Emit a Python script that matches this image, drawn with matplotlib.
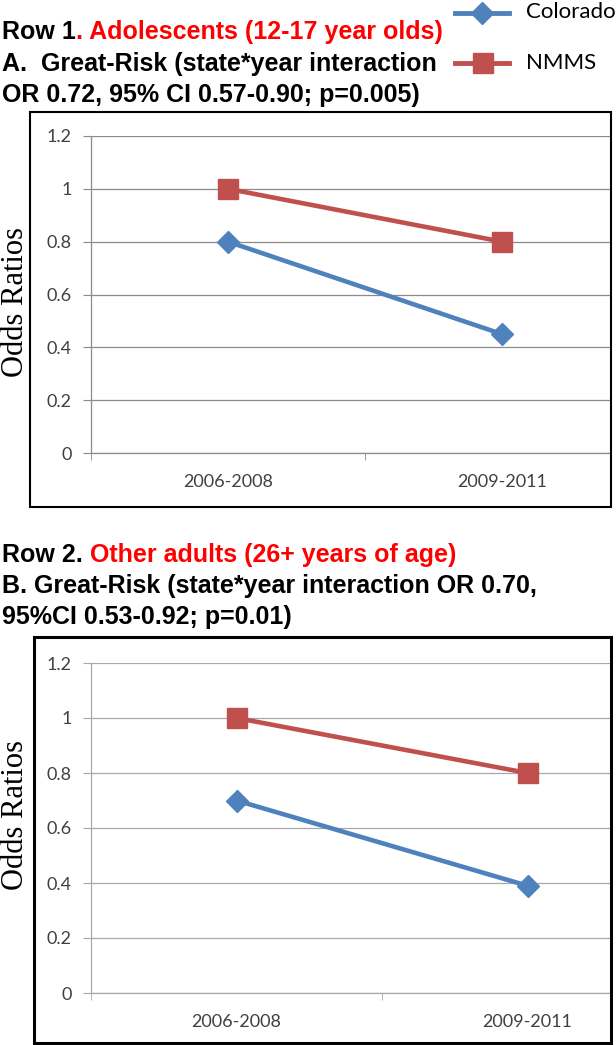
import matplotlib
matplotlib.use("Agg")
import matplotlib.pyplot as plt
from matplotlib.patches import Rectangle
from matplotlib.lines import Line2D

W, H = 616, 1045

periods = ["2006-2008", "2009-2011"]
colorado_a = [0.80, 0.45]
nmms_a = [1.00, 0.80]
colorado_b = [0.70, 0.39]
nmms_b = [1.00, 0.80]
yticks = [0, 0.2, 0.4, 0.6, 0.8, 1.0, 1.2]
ytick_labels = ["0", "0.2", "0.4", "0.6", "0.8", "1", "1.2"]

blue = "#4F81BD"
red = "#C0504D"
tick_c = "#404040"

fig = plt.figure(figsize=(W / 100, H / 100), dpi=100)


def fx(x):
    return x / W


def fy(y):
    return 1 - y / H


def panel(left, right, top, bottom, band, colorado, nmms, grid_c):
    ax = fig.add_axes([fx(left), fy(bottom), fx(right) - fx(left), fy(top) - fy(bottom)])
    x = list(range(len(periods)))
    ax.plot(x, colorado, color=blue, lw=3.3, marker="D", ms=11, zorder=3)
    ax.plot(x, nmms, color=red, lw=3.3, marker="s", ms=14, zorder=3)
    ax.set_yticks(yticks)
    ax.set_yticklabels(ytick_labels, family="Lato", fontsize=13, color=tick_c)
    ax.set_xticks(x)
    ax.set_xticklabels(periods, family="Lato", fontsize=13, color=tick_c)
    ax.tick_params(axis="x", which="major", length=0, pad=15)
    ax.set_xticks([-0.5, 0.5, 1.5], minor=True)
    ax.tick_params(axis="x", which="minor", length=5, color=grid_c, direction="out")
    ax.tick_params(axis="y", length=6, color=grid_c, pad=8)
    # limits after the ticks, so the 1.5 boundary tick does not widen the view
    ax.set_ylim(0, 1.2)
    ax.set_xlim(-0.5, -0.5 + (right - left) / band)
    ax.grid(axis="y", color=grid_c, lw=0.9)
    ax.set_axisbelow(True)
    for s in ["top", "right"]:
        ax.spines[s].set_visible(False)
    for s in ["left", "bottom"]:
        ax.spines[s].set_color(grid_c)
        ax.spines[s].set_linewidth(0.9)
    ax.set_facecolor("none")
    return ax


def box(x0, y0, x1, y1, lw):
    fig.patches.append(Rectangle((fx(x0), fy(y1)), fx(x1) - fx(x0), fy(y0) - fy(y1),
                                 transform=fig.transFigure, fill=False,
                                 edgecolor="black", lw=lw))


def heading(x, y, black, redtxt):
    t1 = fig.text(fx(x), fy(y), black, family="Liberation Sans", weight="bold",
                  fontsize=18, va="bottom", ha="left")
    plt.annotate(redtxt, xy=(1, 0), xycoords=t1, va="bottom", ha="left",
                 family="Liberation Sans", weight="bold", fontsize=18,
                 color="#FF0000")


def line(x, y, s):
    fig.text(fx(x), fy(y), s, family="Liberation Sans", weight="bold",
             fontsize=18, va="bottom", ha="left")


def ylab(yc):
    fig.text(fx(1), fy(yc), "Odds Ratios", family="Liberation Serif", fontsize=22,
             rotation=90, ha="left", va="center")


# panel A
box(30, 112, 611, 507, 1.5)
panel(91, 610, 136, 453, 274, colorado_a, nmms_a, "#8A8A8A")
ylab(302)

# panel B
box(34, 637, 611, 1043, 2.2)
panel(91, 610, 663, 993, 291, colorado_b, nmms_b, "#A8A8A8")
ylab(815)

# headings
heading(2, 44, "Row 1", ". Adolescents (12-17 year olds)")
line(2, 76, "A.  Great-Risk (state*year interaction")
line(2, 107, "OR 0.72, 95% CI 0.57-0.90; p=0.005)")
heading(2, 567, "Row 2. ", "Other adults (26+ years of age)")
line(2, 598, "B. Great-Risk (state*year interaction OR 0.70,")
line(2, 629, "95%CI 0.53-0.92; p=0.01)")

# legend
fig.add_artist(Line2D([fx(455), fx(509)], [fy(13), fy(13)], color=blue, lw=3.5,
                      transform=fig.transFigure))
fig.add_artist(Line2D([fx(482)], [fy(13)], color=blue, marker="D", ms=11,
                      transform=fig.transFigure))
fig.add_artist(Line2D([fx(455), fx(509)], [fy(63), fy(63)], color=red, lw=3.5,
                      transform=fig.transFigure))
fig.add_artist(Line2D([fx(483)], [fy(63)], color=red, marker="s", ms=15,
                      transform=fig.transFigure))
fig.text(fx(526), fy(12), "Colorado", family="Lato", fontsize=16, va="center", ha="left")
fig.text(fx(526), fy(63), "NMMS", family="Lato", fontsize=16, va="center", ha="left")

fig.savefig("out.png", dpi=100)
